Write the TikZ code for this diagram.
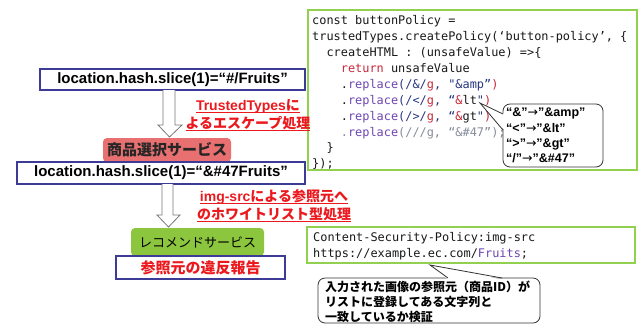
\documentclass[tikz,border=0pt]{standalone}
\usepackage{fontspec}
\setmainfont{Liberation Sans}
\newfontfamily\jp{Noto Sans CJK JP}
\newfontfamily\codefont{DejaVu Sans Mono}
\newfontfamily\djv{DejaVu Sans}
\definecolor{navyb}{RGB}{60,60,150}
\definecolor{greenb}{RGB}{146,208,80}
\definecolor{salmon}{RGB}{232,112,112}
\definecolor{greenf}{RGB}{140,198,63}
\definecolor{redt}{RGB}{235,25,30}
\definecolor{cblack}{RGB}{25,25,25}
\definecolor{cred}{RGB}{200,40,60}
\definecolor{cpur}{RGB}{110,70,180}
\definecolor{cnavy}{RGB}{40,55,130}
\definecolor{cgray}{RGB}{135,140,155}
\definecolor{arrowg}{RGB}{120,120,120}
\newcommand\redul[1]{\setbox0\hbox{#1}\leavevmode\rlap{\rule[-3pt]{\wd0}{1.1pt}}\box0}
\begin{document}
\begin{tikzpicture}[x=1pt,y=-1pt,
  hashbox/.style={draw=navyb, line width=1.3pt, fill=white, inner sep=0pt,
    font=\fontsize{15}{18}\selectfont\bfseries, text=black},
  svcbox/.style={rounded corners=4pt, inner sep=0pt, draw=none},
  codeline/.style={anchor=base west, inner sep=0pt,
    font=\codefont\fontsize{11.9}{16}\selectfont, text=cblack},
  codebox/.style={draw=greenb, line width=1.6pt, inner sep=0pt, fill=white},
  redtext/.style={align=center, inner sep=0pt, text=redt,
    font=\fontsize{14}{18}\selectfont\bfseries},
  callout/.style={draw=black!80, line width=0.8pt, rounded corners=7pt, fill=white, inner sep=0pt},
  blockarrow/.style={draw=arrowg, line width=0.8pt, fill=white}
]
\useasboundingbox (0,0) rectangle (639,325);

% code box
\node[codebox, minimum width=329pt, minimum height=160pt] (code) at (472.5,90) {};
\node[codeline] (c1) at (312,24.7) {const buttonPolicy =};
\node[codeline] (c2) at (312,40.6) {trustedTypes.createPolicy(‘button-policy’, \{};
\node[codeline] (c3) at (312,56.5) {\ \ createHTML : (unsafeValue) =>\{};
\node[codeline] (c4) at (312,72.4) {\ \ \ \ \textcolor{cred}{return} unsafeValue};
\node[codeline] (c5) at (312,88.3) {\ \ \ \ .\textcolor{cpur}{replace}\textcolor{cnavy}{(/\&/}\textcolor{cred}{g}\textcolor{cnavy}{, "\&amp”}\textcolor{cred}{)}};
\node[codeline] (c6) at (312,104.2) {\ \ \ \ .\textcolor{cpur}{replace}\textcolor{cnavy}{(/</}\textcolor{cred}{g}\textcolor{cnavy}{, “}\textcolor{cred}{\&}lt\textcolor{cnavy}{"}\textcolor{cred}{)}};
\node[codeline] (c7) at (312,120.1) {\ \ \ \ .\textcolor{cpur}{replace}\textcolor{cnavy}{(/>/}\textcolor{cred}{g}\textcolor{cnavy}{, “}\textcolor{cred}{\&}gt\textcolor{cnavy}{"}\textcolor{cred}{)}};
\node[codeline] (c8) at (312,136) {\ \ \ \ \textcolor{cgray}{.}\textcolor{cpur}{replace}\textcolor{cgray}{(///g, “\&\#47”);}};
\node[codeline] (c9) at (312,151.9) {\ \ \}};
\node[codeline] (c10) at (312,167.8) {\});};

% replacement callout
\node[callout, minimum width=100pt, minimum height=63pt] (rep) at (553,135.5) {};
\coordinate (tip1) at (480,103);
\fill[white] (tip1) -- (504.5,114) -- (504.5,130) -- cycle;
\draw[black!80, line width=0.8pt] (503,114) -- (tip1) -- (503,130);
\node[anchor=west, align=left, inner sep=0pt, font=\fontsize{12.5}{15.2}\selectfont\bfseries] (reptext) at (506,135.5)
  {“\&”{\djv\mdseries →}”\&amp”\\“<”{\djv\mdseries →}”\&lt”\\“>”{\djv\mdseries →}”\&gt”\\“/”{\djv\mdseries →}”\&\#47”};

% left flow
\node[hashbox, minimum width=265pt, minimum height=21pt] (h1) at (172.5,79.5) {location.hash.slice(1)=“\#/Fruits”};
\draw[blockarrow] (163,90) -- (163,125) -- (158,125) -- (169.5,137) -- (182,125) -- (175,125) -- (175,90);
\node[redtext] (esc) at (248,115) {\redul{TrustedTypes{\jp に}}\\\redul{\jp よるエスケープ処理}};

\node[svcbox, fill=salmon, minimum width=128pt, minimum height=24pt, font=\jp\bfseries\fontsize{15}{18}\selectfont, text=black!85] (shop) at (167,150) {商品選択サービス};
\node[hashbox, minimum width=288pt, minimum height=22pt] (h2) at (161,173) {location.hash.slice(1)=“\&\#47Fruits”};

\draw[blockarrow] (162,184) -- (162,215) -- (157,215) -- (168.5,227) -- (180,215) -- (173,215) -- (173,184);
\node[redtext] (wl) at (274,206) {\redul{img-src{\jp による参照元へ}}\\\redul{\jp のホワイトリスト型処理}};

\node[svcbox, fill=greenf, minimum width=133pt, minimum height=28pt, font=\jp\fontsize{13}{16}\selectfont, text=black] (rec) at (197.5,242) {レコメンドサービス};
\node[hashbox, minimum width=169pt, minimum height=23pt, font=\jp\bfseries\fontsize{15}{18}\selectfont, text=redt] (rep3) at (200.5,267.5) {参照元の違反報告};

% CSP box
\node[codebox, minimum width=328pt, minimum height=36pt] (csp) at (471,245) {};
\node[codeline] (p1) at (313,241) {Content-Security-Policy:img-src};
\node[codeline] (p2) at (313,257) {https://example.ec.com/\textcolor{cpur}{Fruits};};

% check callout
\node[callout, minimum width=222pt, minimum height=45pt] (chk) at (429,300.5) {};
\coordinate (tip2) at (430,265);
\fill[white] (tip2) -- (448,279.5) -- (502,279.5) -- cycle;
\draw[black!80, line width=0.8pt] (448,278) -- (tip2) -- (502,278);
\node[anchor=west, align=left, inner sep=0pt, font=\jp\bfseries\fontsize{12}{14.8}\selectfont] (chktext) at (325,302)
  {入力された画像の参照元（商品ID）が\\リストに登録してある文字列と\\一致しているか検証};
\end{tikzpicture}
\end{document}
